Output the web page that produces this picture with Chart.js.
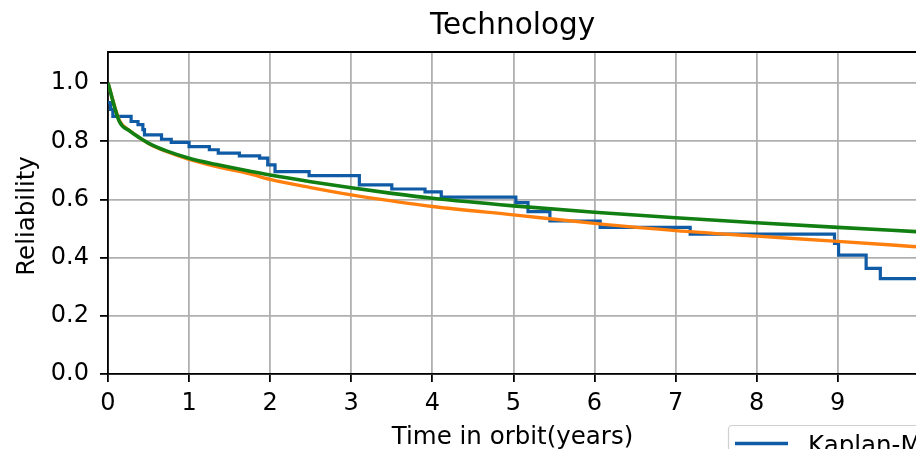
<!DOCTYPE html>
<html>
<head>
<meta charset="utf-8">
<title>Technology</title>
<script src="https://cdn.jsdelivr.net/npm/chart.js@4.4.1/dist/chart.umd.min.js"></script>
<style>
  html, body { margin: 0; padding: 0; background: #fff; }
  canvas { display: block; }
</style>
</head>
<body>
<canvas id="relChart" width="916" height="449"></canvas>
<script>
// ========== DATA ==========
// Kaplan-Meier estimate: drop times (years) and survival after each drop
const kmTimes    = [0, 0.03, 0.06, 0.285, 0.37, 0.43, 0.45, 0.66, 0.78, 1.0, 1.25, 1.36, 1.62, 1.87, 1.97, 2.06, 2.48, 3.1, 3.5, 3.91, 4.11, 5.03, 5.18, 5.45, 6.07, 7.18, 8.96, 9.01, 9.35, 9.525, 10];
const kmSurvival = [0.933, 0.91, 0.886, 0.868, 0.857, 0.84, 0.822, 0.807, 0.796, 0.782, 0.771, 0.759, 0.75, 0.742, 0.719, 0.696, 0.682, 0.65, 0.636, 0.626, 0.608, 0.589, 0.558, 0.526, 0.504, 0.481, 0.449, 0.409, 0.363, 0.328, 0.328];

// fitted parametric curves, sampled on the same time grid
const fitTimes = [0, 0.14, 0.27, 0.39, 0.51, 0.72, 1.0, 1.34, 1.75, 2.0, 2.5, 3.0, 3.5, 4.0, 5.0, 6.0, 7.0, 8.0, 9.0, 10.0];
const modelA   = [1.0, 0.872, 0.836, 0.812, 0.791, 0.765, 0.738, 0.713, 0.688, 0.669, 0.641, 0.616, 0.595, 0.576, 0.547, 0.518, 0.493, 0.474, 0.456, 0.437];
const modelB   = [1.0, 0.868, 0.835, 0.812, 0.792, 0.767, 0.742, 0.72, 0.697, 0.684, 0.661, 0.640, 0.621, 0.604, 0.578, 0.556, 0.537, 0.52, 0.504, 0.489];

const xTicks = [0, 1, 2, 3, 4, 5, 6, 7, 8, 9];
const yTicks = [0.0, 0.2, 0.4, 0.6, 0.8, 1.0];

// ========== STYLE ==========
const FONT   = "'DejaVu Sans', 'Liberation Sans', sans-serif";
const BLUE   = "#0f5ba6";
const ORANGE = "#ff7f0e";
const GREEN  = "#117f11";

const toPoints = (xs, ys) => xs.map((x, i) => ({ x: x, y: ys[i] }));

// title, axis labels, top spine and legend box
const decorPlugin = {
  id: "decor",
  afterDraw(chart) {
    const { ctx, chartArea } = chart;
    ctx.save();

    ctx.strokeStyle = "#000";
    ctx.lineWidth = 1.8;
    ctx.beginPath();
    ctx.moveTo(chartArea.left - 0.9, chartArea.top);
    ctx.lineTo(chartArea.right, chartArea.top);
    ctx.stroke();

    ctx.fillStyle = "#000";
    ctx.textAlign = "center";
    ctx.textBaseline = "alphabetic";
    ctx.font = "29.5px " + FONT;
    ctx.fillText("Technology", 512.5, 33.5);

    ctx.font = "24.5px " + FONT;
    ctx.fillText("Time in orbit(years)", 512.5, 444);

    ctx.save();
    ctx.translate(34, 216);
    ctx.rotate(-Math.PI / 2);
    ctx.fillText("Reliability", 0, 0);
    ctx.restore();

    // legend frame runs past the canvas edge
    ctx.fillStyle = "rgba(255,255,255,0.8)";
    ctx.strokeStyle = "#d0d0d0";
    ctx.lineWidth = 1.2;
    ctx.beginPath();
    ctx.roundRect(728.5, 425.5, 260, 100, 4);
    ctx.fill();
    ctx.stroke();

    ctx.strokeStyle = BLUE;
    ctx.lineWidth = 3.4;
    ctx.beginPath();
    ctx.moveTo(735, 443.5);
    ctx.lineTo(788, 443.5);
    ctx.stroke();

    ctx.fillStyle = "#000";
    ctx.textAlign = "left";
    ctx.font = "24.5px " + FONT;
    ctx.fillText("Kaplan-Meier", 808, 452.5);

    ctx.restore();
  }
};

// ========== CHART ==========
const ctx = document.getElementById("relChart").getContext("2d");

new Chart(ctx, {
  type: "line",
  data: {
    datasets: [
      {
        label: "Kaplan-Meier",
        data: toPoints(kmTimes, kmSurvival),
        borderColor: BLUE,
        borderWidth: 3.2,
        stepped: "before",
        pointRadius: 0,
        fill: false,
        order: 3
      },
      {
        label: "Model A",
        data: toPoints(fitTimes, modelA),
        borderColor: ORANGE,
        borderWidth: 3.4,
        cubicInterpolationMode: "monotone",
        pointRadius: 0,
        fill: false,
        order: 2
      },
      {
        label: "Model B",
        data: toPoints(fitTimes, modelB),
        borderColor: GREEN,
        borderWidth: 3.6,
        cubicInterpolationMode: "monotone",
        pointRadius: 0,
        fill: false,
        order: 1
      }
    ]
  },
  options: {
    responsive: false,
    animation: false,
    devicePixelRatio: 1,
    layout: { padding: { top: 52, left: 0, right: 0, bottom: 0 } },
    plugins: {
      legend: { display: false },
      title: { display: false },
      tooltip: { enabled: false }
    },
    scales: {
      x: {
        type: "linear",
        min: 0,
        max: 9.965,
        afterFit: s => { s.height = 75; },
        afterBuildTicks: s => { s.ticks = xTicks.map(v => ({ value: v })); },
        ticks: {
          color: "#000",
          font: { family: FONT, size: 24 },
          padding: 7,
          maxRotation: 0,
          autoSkip: false,
          callback: v => String(v)
        },
        grid: { color: "#b0b0b0", lineWidth: 1.8, tickColor: "#000", tickLength: 8, tickWidth: 1.8 },
        border: { color: "#000", width: 1.8 }
      },
      y: {
        type: "linear",
        min: 0,
        max: 1.107,
        afterFit: s => { s.width = 108; },
        afterBuildTicks: s => { s.ticks = yTicks.map(v => ({ value: v })); },
        ticks: {
          color: "#000",
          font: { family: FONT, size: 24 },
          padding: 11,
          callback: v => Number(v).toFixed(1)
        },
        grid: { color: "#b0b0b0", lineWidth: 1.8, tickColor: "#000", tickLength: 8, tickWidth: 1.8 },
        border: { color: "#000", width: 1.8 }
      }
    }
  },
  plugins: [decorPlugin]
});
</script>
</body>
</html>
